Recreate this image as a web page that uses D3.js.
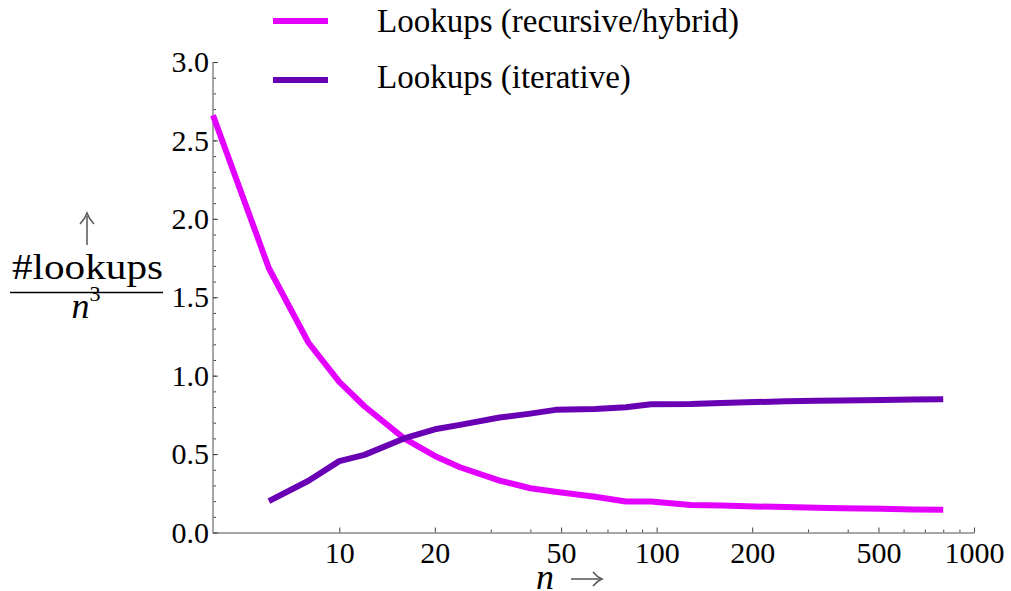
<!DOCTYPE html>
<html>
<head>
<meta charset="utf-8">
<script src="https://cdn.jsdelivr.net/npm/d3@7"></script>
<style>
  body { margin: 0; background: #fff; }
  svg { display: block; }
</style>
</head>
<body>
<svg id="chart" width="1011" height="591"></svg>
<script>
// sizes of n that were measured
const nValues = [4, 6, 8, 10, 12, 16, 20, 24, 32, 40, 48, 64, 80, 96, 128, 160, 192, 256, 320, 384, 512, 640, 800];

// lookups / n^3, recursive/hybrid version
const recursiveLookups = [2.66, 1.685, 1.21, 0.96, 0.805, 0.60, 0.488, 0.416, 0.331, 0.282, 0.26, 0.228, 0.198, 0.197, 0.176, 0.172, 0.167, 0.162, 0.158, 0.155, 0.151, 0.147, 0.145];

// lookups / n^3, iterative version (no value for n = 4)
const iterativeLookups = [null, 0.20, 0.33, 0.455, 0.495, 0.60, 0.658, 0.686, 0.733, 0.758, 0.782, 0.788, 0.798, 0.818, 0.82, 0.826, 0.83, 0.837, 0.84, 0.842, 0.845, 0.848, 0.85];

const seriesNames = ["Lookups (recursive/hybrid)", "Lookups (iterative)"];
const seriesColors = ["#e300ff", "#6a00b4"];

const xMajorTicks = [10, 20, 50, 100, 200, 500, 1000];
const xMinorTicks = [30, 40, 60, 70, 80, 90, 300, 400, 600, 700, 800, 900];
const yMajorTicks = [0, 0.5, 1.0, 1.5, 2.0, 2.5, 3.0];

const serif = "Liberation Serif";
const svg = d3.select("#chart");

const x = d3.scaleLog()
    .domain([4, 1000])
    .range([213, 974]);

const y = d3.scaleLinear()
    .domain([0, 3])
    .range([532.5, 62]);

// minor ticks first, so the major ones sit on top
svg.append("g")
    .attr("transform", "translate(0,532.5)")
    .call(d3.axisBottom(x).tickValues(xMinorTicks).tickSize(-3).tickSizeOuter(0).tickFormat(""))
    .call(g => g.select(".domain").remove())
    .call(g => g.selectAll("line").attr("stroke", "#444"));

svg.append("g")
    .attr("transform", "translate(213,0)")
    .call(d3.axisLeft(y).tickValues(d3.range(0, 31).map(d => d / 10)).tickSize(-3).tickSizeOuter(0).tickFormat(""))
    .call(g => g.select(".domain").remove())
    .call(g => g.selectAll("line").attr("stroke", "#444"));

const xAxis = svg.append("g")
    .attr("transform", "translate(0,532.5)")
    .call(d3.axisBottom(x)
        .tickValues(xMajorTicks)
        .tickSize(-5)
        .tickSizeOuter(0)
        .tickPadding(9)
        .tickFormat(d3.format("d")));

const yAxis = svg.append("g")
    .attr("transform", "translate(213,0)")
    .call(d3.axisLeft(y)
        .tickValues(yMajorTicks)
        .tickSize(-5)
        .tickSizeOuter(0)
        .tickPadding(4)
        .tickFormat(d3.format(".1f")));

[xAxis, yAxis].forEach(g => {
    g.attr("font-family", serif).attr("font-size", 30);
    g.select(".domain").attr("stroke", "#888").attr("stroke-width", 1.5);
    g.selectAll(".tick line").attr("stroke", "#444");
    g.selectAll(".tick text").attr("fill", "#000");
});
// draw the y-axis line across the full range
yAxis.select(".domain").attr("d", "M0," + y(3) + "V" + (y(0) + 1));

// data lines
const line = d3.line()
    .defined(d => d[1] != null)
    .x(d => x(d[0]))
    .y(d => y(d[1]));

[recursiveLookups, iterativeLookups].forEach((vals, i) => {
    svg.append("path")
        .datum(nValues.map((n, j) => [n, vals[j]]))
        .attr("fill", "none")
        .attr("stroke", seriesColors[i])
        .attr("stroke-width", 6)
        .attr("stroke-linejoin", "round")
        .attr("d", line);
});

// legend
const legend = svg.append("g").attr("font-family", serif);
seriesNames.forEach((name, i) => {
    const ly = 21 + i * 59;
    legend.append("line")
        .attr("x1", 273).attr("x2", 328)
        .attr("y1", ly).attr("y2", ly)
        .attr("stroke", seriesColors[i])
        .attr("stroke-width", 6);
    legend.append("text")
        .attr("x", 377)
        .attr("y", 32 + i * 56)
        .attr("font-size", 33)
        .text(name);
});

// y label: up arrow over #lookups / n^3
const yl = svg.append("g").attr("font-family", serif);
yl.append("line")
    .attr("x1", 87).attr("x2", 87)
    .attr("y1", 245).attr("y2", 216)
    .attr("stroke", "#555")
    .attr("stroke-width", 1.5);
yl.append("path")
    .attr("d", "M80,224 Q85,219 87,213 Q89,219 94,224")
    .attr("fill", "none")
    .attr("stroke", "#555")
    .attr("stroke-width", 1.5);
yl.append("text")
    .attr("x", 12).attr("y", 279)
    .attr("textLength", 151)
    .attr("lengthAdjust", "spacingAndGlyphs")
    .attr("font-size", 36)
    .text("#lookups");
yl.append("line")
    .attr("x1", 10).attr("x2", 163)
    .attr("y1", 292.5).attr("y2", 292.5)
    .attr("stroke", "#000")
    .attr("stroke-width", 1.5);
const n3 = yl.append("text")
    .attr("x", 86).attr("y", 318)
    .attr("text-anchor", "middle")
    .attr("font-size", 36);
n3.append("tspan").attr("font-style", "italic").text("n");
n3.append("tspan").attr("dy", -17).attr("font-size", 22).text("3");

// x label: n ->
svg.append("text")
    .attr("x", 536).attr("y", 589)
    .attr("font-family", serif)
    .attr("font-style", "italic")
    .attr("font-size", 36)
    .text("n");
svg.append("line")
    .attr("x1", 571).attr("x2", 600)
    .attr("y1", 579).attr("y2", 579)
    .attr("stroke", "#555")
    .attr("stroke-width", 1.5);
svg.append("path")
    .attr("d", "M593,572 Q597,577 602,579 Q597,581 593,586")
    .attr("fill", "none")
    .attr("stroke", "#555")
    .attr("stroke-width", 1.5);
</script>
</body>
</html>
